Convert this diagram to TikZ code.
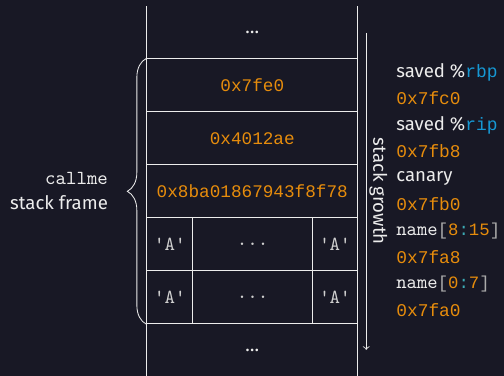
\documentclass[tikz,border=0pt]{standalone}
\usepackage{fontspec}
\setsansfont{Fira Sans}
\newfontfamily\hexfont{Liberation Mono}
\usetikzlibrary{decorations.pathreplacing}
\definecolor{bgdark}{RGB}{24,24,37}
\definecolor{fgwhite}{RGB}{236,236,236}
\definecolor{hexorange}{RGB}{230,140,12}
\definecolor{regblue}{RGB}{22,152,212}
\definecolor{colcyan}{RGB}{60,170,180}
\definecolor{brgray}{RGB}{170,170,170}
\newcommand{\hx}[1]{{\hexfont\fontsize{9.6}{12}\selectfont\color{hexorange}#1}}
\newcommand{\reg}[1]{{\hexfont\fontsize{9.6}{12}\selectfont\color{regblue}#1}}
\newcommand{\br}[1]{{\hexfont\fontsize{9.3}{12}\selectfont\color{brgray}#1}}
\newcommand{\hxs}[1]{{\hexfont\fontsize{9.3}{12}\selectfont\color{hexorange}#1}}
\newcommand{\cl}[1]{{\hexfont\fontsize{9.3}{12}\selectfont\color{colcyan}#1}}
\newcommand{\slice}[2]{{\ttfamily\fontsize{10.6}{12}\selectfont name}\br{[}\hxs{#1}\cl{:}\hxs{#2}\br{]}}
\tikzset{
  cell/.style={draw=fgwhite, minimum height=1cm, inner sep=0pt, font=\hexfont\fontsize{9.5}{12}\selectfont, text=hexorange},
  wide/.style={cell, minimum width=3.98cm},
  byte/.style={cell, font=\ttfamily\fontsize{10.7}{12}\selectfont, text=fgwhite!88!black},
  addr/.style={anchor=west, inner sep=0pt, font=\sffamily\fontsize{10}{12}\selectfont, text=fgwhite}
}
\begin{document}
\begin{tikzpicture}[line width=0.45pt]
	\fill[bgdark] (0,0.02) rectangle (9.51,7.11);
	\useasboundingbox (0,0.02) rectangle (9.51,7.11);
	% stack walls
	\draw[fgwhite] (2.77,0.02) -- (2.77,7.0);
	\draw[fgwhite] (6.75,0.02) -- (6.75,7.0);
	\node[text=fgwhite, font=\sffamily] (dotstop) at (4.76,6.5) {\dots};
	\node[text=fgwhite, font=\sffamily] (dotsbot) at (4.76,0.5) {\dots};
	% frame
	\node[wide] (rbpcell) at (4.76,5.5) {0x7fe0};
	\node[wide] (ripcell) at (4.76,4.5) {0x4012ae};
	\node[wide] (canarycell) at (4.76,3.5) {0x8ba01867943f8f78};
	\node[byte, minimum width=0.87cm] (hiA) at (3.205,2.5) {'A'};
	\node[byte, minimum width=2.25cm] (hidots) at (4.765,2.5) {...};
	\node[byte, minimum width=0.86cm] (hiB) at (6.32,2.5) {'A'};
	\node[byte, minimum width=0.87cm] (loA) at (3.205,1.5) {'A'};
	\node[byte, minimum width=2.25cm] (lodots) at (4.765,1.5) {...};
	\node[byte, minimum width=0.86cm] (loB) at (6.32,1.5) {'A'};
	% brace
	\draw[fgwhite, decorate, decoration={brace, amplitude=0.36cm}] (loA.south west) -- (rbpcell.north west)
		node[midway, xshift=-0.6cm, anchor=east, align=right, text=fgwhite, font=\sffamily\fontsize{10}{13.5}\selectfont] (framelabel) {{\ttfamily\fontsize{10.7}{13.5}\selectfont callme}\\stack frame};
	% growth
	\coordinate (growtop) at (6.91,6.49);
	\coordinate (growbot) at (6.91,0.51);
	\draw[fgwhite, ->] (growtop) -- (growbot)
		node[midway, rotate=-90, anchor=south, inner sep=1.5pt, text=fgwhite, font=\sffamily\fontsize{10}{12}\selectfont] (growlabel) {stack growth};
	% addresses
	\node[addr] (rbpname) at (7.47,5.75) {saved \%\reg{rbp}};
	\node[addr] (rbpaddr) at (7.47,5.25) {\hx{0x7fc0}};
	\node[addr] (ripname) at (7.47,4.75) {saved \%\reg{rip}};
	\node[addr] (ripaddr) at (7.47,4.25) {\hx{0x7fb8}};
	\node[addr] (canname) at (7.47,3.75) {canary};
	\node[addr] (canaddr) at (7.47,3.25) {\hx{0x7fb0}};
	\node[addr] (hiname) at (7.47,2.75) {\slice{8}{15}};
	\node[addr] (hiaddr) at (7.47,2.25) {\hx{0x7fa8}};
	\node[addr] (loname) at (7.47,1.75) {\slice{0}{7}};
	\node[addr] (loaddr) at (7.47,1.25) {\hx{0x7fa0}};
\end{tikzpicture}
\end{document}
